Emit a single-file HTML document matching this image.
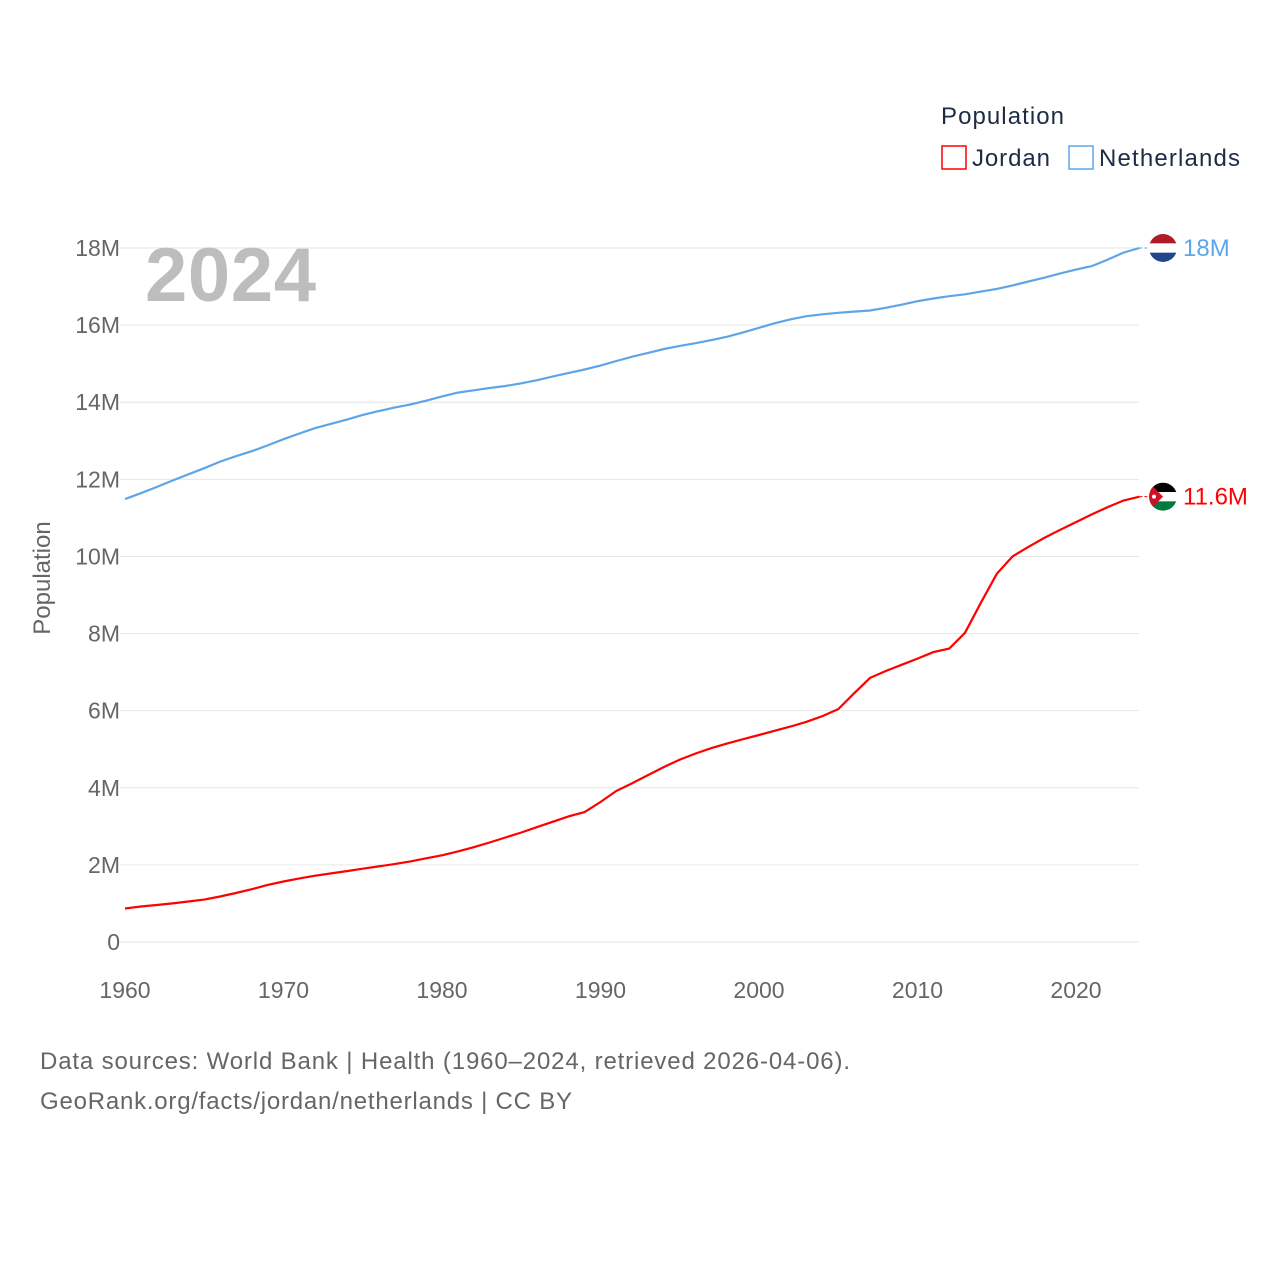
<!DOCTYPE html>
<html><head><meta charset="utf-8"><style>
html,body{margin:0;padding:0;background:#fff;width:1280px;height:1280px;overflow:hidden}
svg text{font-family:"Liberation Sans",sans-serif}
</style></head><body>
<svg id="chart" width="1280" height="1280" viewBox="0 0 1280 1280">
<text x="941" y="124" font-size="24" fill="#1d2b45" textLength="123">Population</text>
<g><rect x="942" y="146" width="24" height="23" fill="none" stroke="#ff0000" stroke-width="1.5"/><text x="972" y="166" font-size="24" fill="#1d2b45" textLength="78">Jordan</text></g>
<g><rect x="1069" y="146" width="24" height="23" fill="none" stroke="#5ea5e8" stroke-width="1.5"/><text x="1099" y="166" font-size="24" fill="#1d2b45" textLength="141">Netherlands</text></g>
<g id="grid"></g><g id="yticks"></g><g id="xticks"></g>
<text x="145" y="301" font-size="76" font-weight="bold" fill="#bdbdbd" textLength="171">2024</text>
<text transform="translate(50,578) rotate(-90)" text-anchor="middle" font-size="24" fill="#666">Population</text>
<g id="series"></g>
<text x="40" y="1069" font-size="24" fill="#666" textLength="810">Data sources: World Bank | Health (1960–2024, retrieved 2026-04-06).</text>
<text x="40" y="1109" font-size="24" fill="#666" textLength="532">GeoRank.org/facts/jordan/netherlands | CC BY</text>
</svg>
<script>
const years=[];for(let y=1960;y<=2024;y++)years.push(y);
const netherlands=[11.49,11.64,11.80,11.97,12.13,12.29,12.46,12.60,12.73,12.88,13.04,13.19,13.33,13.44,13.55,13.67,13.77,13.86,13.94,14.04,14.15,14.25,14.31,14.37,14.42,14.49,14.57,14.67,14.76,14.85,14.95,15.07,15.18,15.28,15.38,15.46,15.53,15.61,15.70,15.81,15.93,16.05,16.15,16.23,16.28,16.32,16.35,16.38,16.45,16.53,16.62,16.69,16.75,16.80,16.87,16.94,17.03,17.13,17.23,17.34,17.44,17.53,17.70,17.88,18.0];
const jordan=[0.87,0.92,0.96,1.00,1.05,1.10,1.18,1.27,1.37,1.48,1.57,1.65,1.72,1.78,1.84,1.90,1.96,2.02,2.09,2.17,2.25,2.35,2.46,2.58,2.71,2.84,2.98,3.12,3.26,3.37,3.63,3.92,4.12,4.33,4.54,4.73,4.89,5.03,5.15,5.26,5.37,5.48,5.59,5.71,5.86,6.04,6.45,6.85,7.03,7.19,7.35,7.52,7.61,8.02,8.80,9.55,10.0,10.25,10.48,10.69,10.89,11.09,11.28,11.45,11.55];
const yTicks=[0,2,4,6,8,10,12,14,16,18];
const yTickLabels=["0","2M","4M","6M","8M","10M","12M","14M","16M","18M"];
const xTicks=[1960,1970,1980,1990,2000,2010,2020];
const NS="http://www.w3.org/2000/svg";
const X=y=>125+(y-1960)*(1076-125)/60;
const Y=v=>942-v*(942-248)/18;
function mk(t,a,p){const e=document.createElementNS(NS,t);for(const k in a)e.setAttribute(k,a[k]);p.appendChild(e);return e;}
const grid=document.getElementById('grid'),yt=document.getElementById('yticks'),xt=document.getElementById('xticks'),ser=document.getElementById('series');
yTicks.forEach((v,i)=>{
 const l=mk('line',{x1:120,x2:1139,y1:Y(v),y2:Y(v),stroke:'#e6e6e6','stroke-width':1},grid);
 
 
 const t=mk('text',{x:120,y:Y(v)+8,'text-anchor':'end','font-size':23,fill:'#666'},yt);t.textContent=yTickLabels[i];
 
 
});
xTicks.forEach(v=>{
 const t=mk('text',{x:X(v),y:998,'text-anchor':'middle','font-size':23,fill:'#666'},xt);t.textContent=v;
 
 
});
function line(vals,col,name,label,flag){
 const d=vals.map((v,i)=>(i?'L':'M')+X(years[i]).toFixed(1)+','+Y(v).toFixed(1)).join('');
 const p=mk('path',{d:d,fill:'none',stroke:col,'stroke-width':2.2},ser);
 
 
 const last=vals[vals.length-1],ly=Y(last),lx=X(years[years.length-1]);
 mk('line',{x1:lx,x2:1163,y1:ly,y2:ly,stroke:col,'stroke-width':1,'stroke-dasharray':'3,2'},ser);
 const g=mk('g',{},ser);
 
 
 const id='c'+name;const cp=mk('clipPath',{id:id},g);mk('circle',{cx:1163,cy:ly,r:14},cp);
 const gg=mk('g',{'clip-path':'url(#'+id+')'},g);
 flag.forEach((c,i)=>mk('rect',{x:1149,y:ly-14+i*28/3,width:28,height:28/3+0.5,fill:c},gg));
 if(name==='jordan'){mk('polygon',{points:`1149,${ly-14} 1163,${ly} 1149,${ly+14}`,fill:'#ce1126'},gg);mk('circle',{cx:1154,cy:ly,r:2,fill:'#fff'},gg);}
 const t=mk('text',{x:1183,y:ly+8,'font-size':24,fill:col},ser);t.textContent=label;
 
 
}
line(netherlands,'#5ea5e8','netherlands','18M',['#ae1c28','#ffffff','#21468b']);
line(jordan,'#ff0000','jordan','11.6M',['#000000','#ffffff','#007a3d']);
</script>
</body></html>
